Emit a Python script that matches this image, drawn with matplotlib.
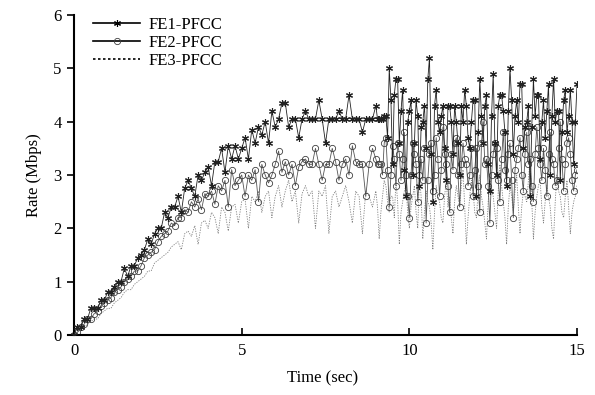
import numpy as np
import matplotlib
matplotlib.use("Agg")
import matplotlib.pyplot as plt

plt.rcParams['font.family'] = ['Liberation Serif', 'DejaVu Serif']

# =========================
# data
# 0 - 8.9 s every 0.1 s, 9 - 15 s every 0.05 s
# =========================
t = np.round(np.concatenate([np.arange(0, 90) * 0.1,
                             9.0 + np.arange(0, 121) * 0.05]), 2)

fe1 = [
    0, 0.15, 0.15, 0.3, 0.3, 0.5, 0.5, 0.5, 0.65, 0.65,
    0.8, 0.8, 0.9, 1.0, 1.0, 1.25, 1.1, 1.3, 1.3, 1.45,
    1.5, 1.6, 1.8, 1.7, 1.9, 2.0, 2.0, 2.3, 2.2, 2.4,
    2.4, 2.6, 2.3, 2.75, 2.9, 2.75, 2.6, 3.0, 2.9, 3.05,
    3.15, 2.8, 3.25, 3.25, 3.5, 3.05, 3.55, 3.3, 3.55, 3.3,
    3.5, 3.7, 3.3, 3.85, 3.6, 3.9, 3.75, 4.0, 3.6, 4.2,
    3.9, 4.05, 4.35, 4.35, 3.9, 4.05, 4.05, 3.7, 4.05, 4.2,
    4.05, 4.05, 4.05, 4.4, 4.05, 3.6, 4.05, 4.05, 4.05, 4.2,
    4.05, 4.05, 4.5, 4.05, 4.05, 4.05, 3.8, 4.05, 4.05, 4.05,
    # 9 s on
    4.3, 4.05, 4.05, 4.05, 4.05, 4.1, 4.1, 3.7, 5.0, 4.4,
    3.2, 4.5, 4.8, 4.8, 3.6, 4.2, 4.6, 3.1, 2.6, 4.0,
    4.2, 4.4, 3.0, 3.6, 4.4, 4.1, 2.8, 3.9, 4.0, 4.3,
    3.5, 4.8, 5.2, 3.4, 2.5, 4.3, 4.6, 4.0, 3.8, 4.1,
    4.3, 3.5, 2.9, 4.3, 4.3, 4.0, 3.4, 4.3, 4.0, 3.6,
    3.0, 4.3, 4.0, 4.6, 4.3, 3.7, 3.5, 4.0, 4.4, 4.4,
    2.6, 3.8, 4.8, 4.1, 3.6, 4.3, 4.5, 3.2, 2.7, 4.1,
    4.9, 3.6, 3.0, 4.3, 4.5, 4.5, 4.2, 3.8, 2.8, 4.2,
    5.0, 4.4, 3.4, 4.1, 4.4, 4.0, 4.7, 4.7, 3.5, 3.9,
    4.0, 4.3, 2.6, 3.9, 4.8, 4.1, 4.5, 4.5, 3.3, 4.0,
    4.4, 3.7, 4.2, 4.7, 3.0, 4.1, 4.8, 4.0, 4.2, 4.2,
    2.9, 3.8, 4.4, 4.6, 3.8, 4.1, 4.6, 4.0, 3.2, 4.0,
    4.7,
]

fe2 = [
    0, 0.05, 0.15, 0.2, 0.3, 0.3, 0.4, 0.45, 0.55, 0.6,
    0.65, 0.7, 0.8, 0.85, 0.9, 1.0, 1.05, 1.1, 1.2, 1.2,
    1.3, 1.45, 1.5, 1.55, 1.6, 1.75, 1.85, 1.9, 1.95, 2.1,
    2.05, 2.2, 2.2, 2.35, 2.3, 2.5, 2.4, 2.55, 2.35, 2.65,
    2.6, 2.7, 2.45, 2.8, 2.7, 2.9, 2.4, 3.1, 2.8, 2.9,
    3.0, 2.6, 3.0, 2.9, 3.1, 2.5, 3.2, 3.0, 2.85, 3.0,
    3.2, 3.45, 3.05, 3.25, 3.0, 3.2, 2.8, 3.15, 3.25, 3.3,
    3.2, 3.2, 3.5, 3.2, 2.9, 3.2, 3.2, 3.5, 3.25, 2.9,
    3.2, 3.3, 3.0, 3.55, 3.25, 3.2, 3.2, 2.6, 3.2, 3.5,
    # 9 s on
    3.3, 3.2, 3.2, 3.2, 3.0, 3.6, 3.7, 3.1, 2.4, 3.0,
    3.55, 3.3, 2.8, 3.6, 3.4, 2.9, 3.3, 3.8, 3.0, 2.6,
    2.2, 3.0, 3.6, 3.4, 3.2, 2.5, 3.0, 3.3, 2.9, 3.5,
    2.1, 2.9, 3.4, 3.6, 2.7, 3.0, 3.7, 3.3, 2.6, 3.1,
    3.9, 3.4, 3.2, 2.8, 2.3, 3.4, 3.1, 3.6, 3.7, 3.0,
    2.4, 3.2, 3.6, 3.3, 3.2, 2.8, 3.0, 3.5, 2.6, 3.1,
    3.5, 2.8, 2.3, 3.6, 4.0, 3.2, 3.3, 2.8, 2.1, 3.0,
    3.4, 3.6, 3.5, 2.9, 2.5, 3.3, 3.8, 3.1, 2.9, 3.4,
    3.6, 2.9, 2.2, 3.1, 3.3, 3.5, 3.7, 3.0, 2.7, 3.4,
    3.8, 3.2, 3.3, 2.8, 2.5, 3.4, 3.9, 3.5, 3.2, 2.9,
    3.5, 3.1, 2.6, 3.4, 3.8, 3.3, 3.2, 2.8, 2.9, 3.5,
    4.0, 3.3, 2.7, 3.2, 3.6, 3.7, 3.4, 2.9, 2.7, 3.0,
    3.1,
]

fe3 = [
    0, 0.05, 0.1, 0.15, 0.2, 0.25, 0.3, 0.3, 0.4, 0.45,
    0.5, 0.5, 0.6, 0.65, 0.7, 0.8, 0.85, 0.85, 0.95, 1.0,
    1.05, 1.1, 1.2, 1.2, 1.35, 1.4, 1.45, 1.5, 1.55, 1.65,
    1.7, 1.75, 1.6, 1.9, 1.95, 1.85, 2.05, 1.7, 2.1, 2.15,
    2.0, 2.3, 2.2, 1.9, 2.4, 2.3, 1.95, 2.4, 2.45, 2.1,
    2.5, 2.55, 2.0, 2.6, 2.5, 2.7, 2.3, 2.6, 2.7, 2.2,
    2.6, 2.8, 2.4, 2.7, 2.9, 2.5, 2.7, 2.1, 2.65, 2.8,
    2.6, 2.7, 2.0, 2.7, 2.6, 2.8, 1.9, 2.6, 2.7, 2.4,
    2.6, 2.8, 2.5, 2.1, 2.7, 2.6, 1.9, 2.7, 2.6, 2.4,
    # 9 s on
    2.7, 2.4, 1.8, 2.3, 2.6, 2.9, 2.8, 2.5, 2.3, 2.6,
    2.6, 2.2, 2.9, 2.5, 1.7, 2.3, 2.5, 2.7, 2.8, 2.3,
    2.0, 2.4, 2.6, 2.8, 2.3, 2.0, 3.0, 2.6, 1.8, 2.3,
    2.7, 2.5, 2.4, 2.1, 1.6, 2.3, 2.8, 2.6, 2.5, 2.2,
    2.1, 2.6, 2.9, 2.4, 2.6, 2.2, 1.9, 2.5, 2.8, 2.6,
    2.4, 2.8, 3.1, 2.4, 1.7, 2.2, 2.6, 2.9, 2.7, 2.3,
    2.2, 2.7, 3.0, 2.6, 2.4, 2.1, 1.8, 2.5, 2.9, 2.7,
    2.6, 2.3, 2.0, 2.7, 3.2, 2.8, 2.5, 2.2, 1.7, 2.4,
    2.8, 2.6, 2.3, 2.7, 3.0, 2.4, 1.9, 2.4, 2.7, 2.6,
    2.5, 2.9, 3.3, 2.5, 1.8, 2.3, 2.6, 2.8, 2.9, 2.4,
    2.1, 2.5, 2.8, 2.6, 2.4, 2.0, 1.8, 2.5, 3.0, 2.7,
    2.6, 2.3, 2.2, 2.6, 2.9, 2.4, 1.9, 2.3, 2.5, 2.6,
    2.8,
]

labels = ["FE1-PFCC", "FE2-PFCC", "FE3-PFCC"]

# =========================
# plot
# =========================
fig = plt.figure(figsize=(5.95, 3.95), dpi=100)
ax = fig.add_axes([0.1143, 0.1519, 0.8555, 0.8101])

ax.plot(t, fe3, color="#808080", lw=0.6, ls=(0, (1.5, 1.5)), label=labels[2], zorder=1)
ax.plot(t, fe2, color="#555555", lw=0.6, marker="o", ms=4.5, mfc="none",
        mec="#404040", mew=0.6, label=labels[1], zorder=2)
ax.plot(t, fe1, color="#222222", lw=0.6, marker=(6, 2, 0), ms=5,
        mew=0.8, label=labels[0], zorder=3)

ax.set_xlim(-0.18, 15)
ax.set_ylim(0, 6)
ax.set_xticks([0, 5, 10, 15])
ax.set_yticks(range(7))

ax.spines["top"].set_visible(False)
ax.spines["right"].set_visible(False)
ax.spines["left"].set_position(("data", 0))
ax.spines["left"].set_linewidth(1.5)
ax.spines["bottom"].set_linewidth(1.5)
ax.tick_params(axis="x", direction="in", length=5, width=1.2, labelsize=12, pad=6)
ax.tick_params(axis="y", direction="out", length=5, width=1.2, labelsize=12, pad=4)

ax.set_xlabel("Time (sec)", fontsize=12, labelpad=8)
ax.set_ylabel("Rate (Mbps)", fontsize=12, labelpad=8)

h, l = ax.get_legend_handles_labels()
leg = ax.legend(h[::-1], l[::-1], loc="upper left", bbox_to_anchor=(0.02, 1.04),
                frameon=False, fontsize=12, handlelength=2.8, labelspacing=0.1,
                handletextpad=0.5)
for line in leg.get_lines():
    line.set_color("black")
    line.set_linewidth(1.2)

fig.savefig("out.png", dpi=100)
